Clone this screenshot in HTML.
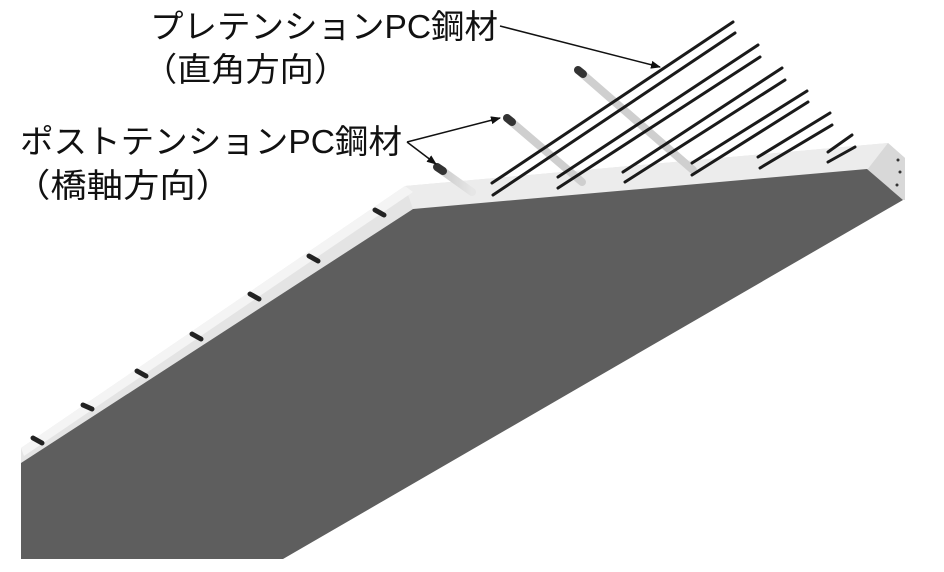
<!DOCTYPE html>
<html><head><meta charset="utf-8"><style>
html,body{margin:0;padding:0;background:#fff;}
svg{display:block}
text{font-family:"Liberation Sans","Noto Sans CJK JP",sans-serif;fill:#111;font-size:33px}
</style></head><body>
<svg width="944" height="572" viewBox="0 0 944 572" xmlns="http://www.w3.org/2000/svg">
<defs>
<marker id="ah" markerWidth="10" markerHeight="8" refX="9" refY="4" orient="auto" markerUnits="userSpaceOnUse"><path d="M0,0 L10,4 L0,8 Z" fill="#111"/></marker>
<linearGradient id="rod" x1="0" y1="0" x2="1" y2="0"><stop offset="0" stop-color="#c8c8c8"/><stop offset="1" stop-color="#e6e6e6"/></linearGradient>
</defs>
<polygon points="21,448 405,186 888,143 905,158 905,200 867,170 413,209 21,465" fill="#e4e4e4"/>
<polygon points="405,186 888,143 905,158 867,170 413,209" fill="#ececec"/>
<polygon points="21,448 405,186 413,192 24,456" fill="#f4f4f4"/>
<polygon points="888,143 905,158 905,200 903,200 867,170" fill="#d8d8d8"/>
<polygon points="21,463 413,209 867,169 903,200 283,559 21,559" fill="#5e5e5e"/>
<g stroke="#222" stroke-width="5" stroke-linecap="round">
<line x1="33" y1="438" x2="42" y2="443"/>
<line x1="83" y1="405" x2="92" y2="409"/>
<line x1="137" y1="371" x2="146" y2="376"/>
<line x1="192" y1="334" x2="201" y2="339"/>
<line x1="250" y1="294" x2="259" y2="299"/>
<line x1="309" y1="256" x2="318" y2="261"/>
<line x1="375" y1="210" x2="384" y2="215"/>
</g>
<g fill="#333"><circle cx="898" cy="160" r="1.5"/><circle cx="900" cy="172" r="1.5"/><circle cx="897" cy="185" r="1.5"/></g>
<g stroke-linecap="round">
<line x1="437" y1="167" x2="472" y2="192" stroke="url(#rod)" stroke-width="8"/>
<line x1="507" y1="118" x2="582" y2="182" stroke="#cfcfcf" stroke-width="8"/>
<line x1="578" y1="70" x2="693" y2="170" stroke="#cfcfcf" stroke-width="8"/>
</g>
<g stroke="#333" stroke-width="8" stroke-linecap="round">
<line x1="437" y1="167" x2="443" y2="171"/>
<line x1="507" y1="118" x2="512" y2="122"/>
<line x1="578" y1="70" x2="583" y2="74"/>
</g>
<g stroke="#1a1a1a" stroke-width="3" stroke-linecap="round">
<line x1="492" y1="183" x2="733" y2="22"/>
<line x1="493" y1="195" x2="735" y2="33"/>
<line x1="558" y1="177" x2="758" y2="45"/>
<line x1="558" y1="188" x2="760" y2="57"/>
<line x1="623" y1="172" x2="782" y2="68"/>
<line x1="625" y1="182" x2="785" y2="80"/>
<line x1="692" y1="163" x2="807" y2="91"/>
<line x1="692" y1="175" x2="808" y2="102"/>
<line x1="758" y1="157" x2="830" y2="113"/>
<line x1="760" y1="168" x2="832" y2="125"/>
<line x1="828" y1="152" x2="852" y2="135"/>
<line x1="828" y1="162" x2="855" y2="147"/>
</g>
<g stroke="#111" stroke-width="1.5" fill="none">
<line x1="500" y1="26" x2="660" y2="67" marker-end="url(#ah)"/>
<line x1="407" y1="142" x2="500" y2="118" marker-end="url(#ah)"/>
<line x1="407" y1="142" x2="436" y2="164" marker-end="url(#ah)"/>
</g>
<text x="150" y="38" textLength="348" lengthAdjust="spacingAndGlyphs">プレテンションPC鋼材</text>
<text x="143" y="81" textLength="205" lengthAdjust="spacingAndGlyphs">（直角方向）</text>
<text x="20" y="153" textLength="382" lengthAdjust="spacingAndGlyphs">ポストテンションPC鋼材</text>
<text x="14" y="197" textLength="218" lengthAdjust="spacingAndGlyphs">（橋軸方向）</text>
</svg>
</body></html>
